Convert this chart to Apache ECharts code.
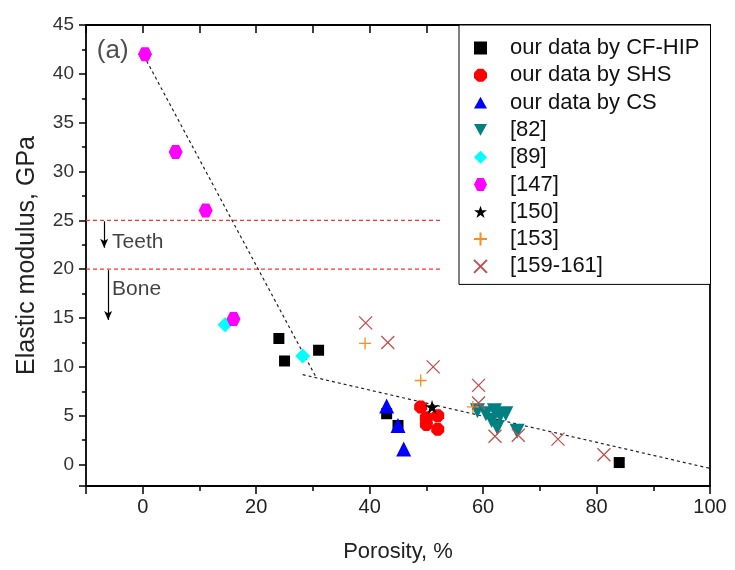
<!DOCTYPE html>
<html>
<head>
<meta charset="utf-8">
<script src="https://cdn.jsdelivr.net/npm/echarts@6/dist/echarts.min.js"></script>
<style>
html,body{margin:0;padding:0;background:#fff;}
#chart{width:735px;height:570px;}
</style>
</head>
<body>
<div id="chart"></div>
<script>
// ---- data (porosity %, elastic modulus GPa) ----
const cfHip   = [[24,12.9],[25,10.6],[31,11.7],[43,5.2],[45,4.0],[84,0.2]];
const shs     = [[49,5.9],[50,4.8],[52,5.0],[50,4.1],[52,3.6]];
const cs      = [[43,6.0],[45,4.0],[46,1.6]];
const ref82   = [[59,5.5],[60.5,5.2],[62,5.5],[63,5.0],[64,5.2],[61.5,4.5],[62.5,3.8],[66,3.4]];
const ref89   = [[14.5,14.3],[28.2,11.1]];
const ref147  = [[0.4,42],[5.8,32],[11.1,26],[16,14.9]];
const ref150  = [[51,5.9]];
const ref153  = [[39.2,12.4],[49,8.6],[58.2,5.9]];
const ref159  = [[39.3,14.5],[43.2,12.5],[51.2,10.0],[59.2,8.1],[59.2,6.3],[62.1,2.9],[66.2,3.0],[73.2,2.6],[81.3,1.0]];
const fitSteep   = [[-0.3,42.4],[30.5,9.0]];
const fitShallow = [[28.2,9.2],[100,-0.4]];
const teethLine = [[-10,25],[52.5,25]];
const boneLine  = [[-10,20],[52.5,20]];
const teethArrow = [[-6.8,24.9],[-6.8,22.2]];
const boneArrow  = [[-6.1,19.9],[-6.1,14.8]];
const notes = [
  {name:'Teeth', value:[-5.4,22.8]},
  {name:'Bone',  value:[-5.4,18.0]},
];
const panelTag = [{name:'(a)', value:[-8.1,42.4]}];
const seriesNames = ['our data by CF-HIP','our data by SHS','our data by CS','[82]','[89]','[147]','[150]','[153]','[159-161]'];

const FONT = 'Liberation Sans, Arial, sans-serif';
const starPath = 'path://M50,0 L61.8,35.1 L98.9,35.1 L68.9,56.7 L80.2,91.9 L50,70.2 L19.8,91.9 L31.1,56.7 L1.1,35.1 L38.2,35.1 Z';
const plusPath = 'path://M0,50 L100,50 M50,0 L50,100';
const crossPath = 'path://M0,0 L100,100 M100,0 L0,100';
const hexPath = 'path://M25,0 L75,0 L100,50 L75,100 L25,100 L0,50 Z';
const octPath = 'path://M30,0 L70,0 L100,30 L100,70 L70,100 L30,100 L0,70 L0,30 Z';
const downTri = 'path://M0,0 L100,0 L50,90 Z';
const upTri = 'path://M50,0 L100,90 L0,90 Z';

function sc(name, data, symbol, size, color, extra) {
  return Object.assign({
    type:'scatter', name:name, data:data, symbol:symbol, symbolSize:size,
    itemStyle:{color:color, opacity:1}, z:5
  }, extra||{});
}

function arrowSeries(name, pts) {
  return {type:'line', name:name, data:[], silent:true, z:2,
    markLine:{silent:true, animation:false, symbol:['none','arrow'], symbolSize:[6,9],
      label:{show:false},
      lineStyle:{color:'#000', width:1.2, type:'solid'},
      data:[[{coord:pts[0]},{coord:pts[1]}]]}};
}

const chart = echarts.init(document.getElementById('chart'), null, {renderer:'canvas'});
const option = {
  animation:false,
  backgroundColor:'#fff',
  grid:{left:86, right:25, top:25, bottom:84, containLabel:false},
  xAxis:[{
    type:'value', min:-10, max:100, splitNumber:5,
    name:'Porosity, %', nameLocation:'middle', nameGap:55,
    nameTextStyle:{fontFamily:FONT, fontSize:22, color:'#222'},
    axisLine:{show:true, onZero:false, lineStyle:{color:'#000', width:1.8}},
    axisTick:{show:true, inside:false, length:8, lineStyle:{color:'#000', width:1.5}},
    minorTick:{show:true, splitNumber:2, length:5, lineStyle:{color:'#000', width:1.5}},
    axisLabel:{fontFamily:FONT, fontSize:20, color:'#222', margin:11,
      formatter:function(v){ return v < 0 ? '' : String(v); }},
    splitLine:{show:false}, minorSplitLine:{show:false}
  },{
    type:'value', position:'top', min:-10, max:100, splitNumber:11,
    axisLine:{show:true, onZero:false, lineStyle:{color:'#000', width:1.8}},
    axisTick:{show:true, inside:true, length:8, lineStyle:{color:'#000', width:1.5}},
    axisLabel:{show:false}, splitLine:{show:false}
  }],
  yAxis:[{
    type:'value', min:-2.2, max:45, splitNumber:9,
    name:'Elastic modulus, GPa', nameLocation:'middle', nameGap:46,
    nameTextStyle:{fontFamily:FONT, fontSize:25, color:'#222'},
    axisLine:{show:true, onZero:false, lineStyle:{color:'#000', width:1.8}},
    axisTick:{show:true, inside:false, length:7, lineStyle:{color:'#000', width:1.5}},
    minorTick:{show:true, splitNumber:2, length:4, lineStyle:{color:'#000', width:1.5}},
    axisLabel:{fontFamily:FONT, fontSize:19, color:'#333', margin:12,
      formatter:function(v){ return v < 0 ? '' : String(v); }},
    splitLine:{show:false}, minorSplitLine:{show:false}
  },{
    type:'value', position:'right', min:-2.2, max:45,
    axisLine:{show:true, onZero:false, lineStyle:{color:'#000', width:1.8}},
    axisTick:{show:false}, axisLabel:{show:false}, splitLine:{show:false}
  }],
  legend:{
    data:seriesNames, orient:'vertical', left:459, top:25,
    itemWidth:13, itemHeight:13, itemGap:5.3,
    padding:[12,11,7,14],
    borderColor:'#000', borderWidth:1, backgroundColor:'#fff',
    textStyle:{fontFamily:FONT, fontSize:22, color:'#111', lineHeight:22, padding:[0,0,0,18]},
    selectedMode:false
  },
  series:[
    {type:'line', name:'fit1', data:fitSteep, symbol:'none', silent:true, z:3,
      lineStyle:{color:'#222', width:1.2, type:[3,3]}},
    {type:'line', name:'fit2', data:fitShallow, symbol:'none', silent:true, z:3,
      lineStyle:{color:'#222', width:1.2, type:[3,3]}},
    {type:'line', name:'teeth', data:teethLine, symbol:'none', silent:true, z:2,
      lineStyle:{color:'#ff3030', width:1.2, type:[4,3]}},
    {type:'line', name:'bone', data:boneLine, symbol:'none', silent:true, z:2,
      lineStyle:{color:'#ff3030', width:1.2, type:[4,3]}},
    arrowSeries('arrow1', teethArrow),
    arrowSeries('arrow2', boneArrow),
    {type:'scatter', name:'notes', data:notes, symbolSize:0, silent:true,
      label:{show:true, position:'right', distance:0, formatter:'{b}',
        fontFamily:FONT, fontSize:21, color:'#111'}},
    {type:'scatter', name:'tag', data:panelTag, symbolSize:0, silent:true,
      label:{show:true, position:'right', distance:0, formatter:'{b}',
        fontFamily:FONT, fontSize:26, color:'#222'}},
    sc(seriesNames[0], cfHip, 'rect', 11, '#000'),
    sc(seriesNames[1], shs, octPath, 13, '#ff0000'),
    sc(seriesNames[2], cs, upTri, 15, '#0000ff'),
    sc(seriesNames[3], ref82, downTri, 15, '#008080'),
    sc(seriesNames[4], ref89, 'diamond', 15, '#00ffff'),
    sc(seriesNames[5], ref147, hexPath, 14, '#ff00ff'),
    sc(seriesNames[6], ref150, starPath, 14, '#000'),
    sc(seriesNames[7], ref153, plusPath, 12, 'rgba(0,0,0,0)',
      {itemStyle:{color:'rgba(0,0,0,0)', borderColor:'#ff8c1a', borderWidth:1.3, opacity:1}}),
    sc(seriesNames[8], ref159, crossPath, 13, 'rgba(0,0,0,0)',
      {itemStyle:{color:'rgba(0,0,0,0)', borderColor:'#c0504d', borderWidth:1.3, opacity:1}})
  ]
};
chart.setOption(option);
</script>
</body>
</html>
